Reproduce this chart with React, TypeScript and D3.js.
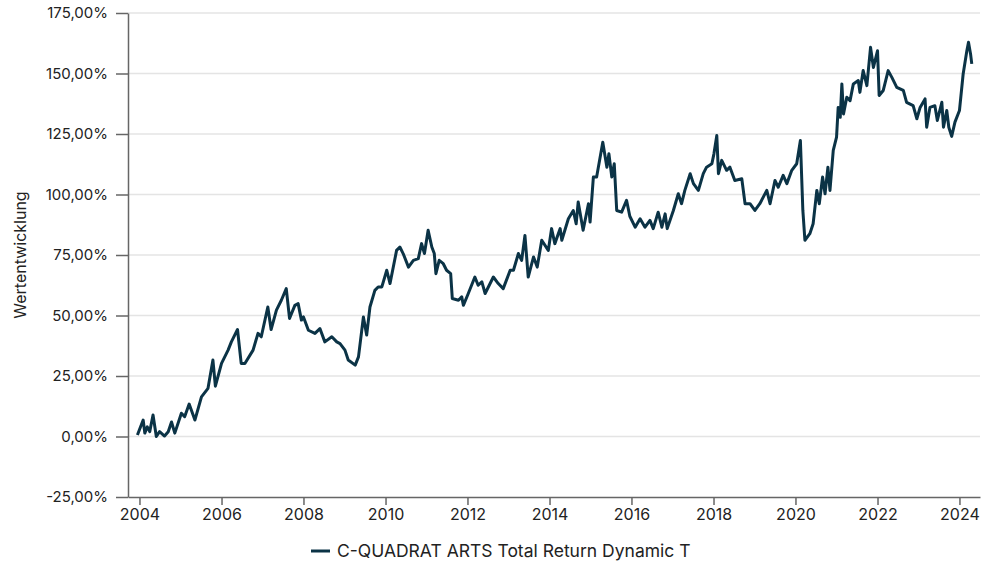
import React, { useRef, useEffect } from "react";
import * as d3 from "d3";

// fractional years, with the matching performance in %
const years = [
  2003.95, 2004.09, 2004.13, 2004.19, 2004.25, 2004.33, 2004.41, 2004.49, 2004.61, 2004.7,
  2004.78, 2004.86, 2005.02, 2005.1, 2005.21, 2005.35, 2005.51, 2005.67, 2005.79, 2005.85,
  2006.0, 2006.16, 2006.24, 2006.39, 2006.48, 2006.57, 2006.77, 2006.89, 2006.97, 2007.13,
  2007.21, 2007.34, 2007.46, 2007.58, 2007.66, 2007.79, 2007.87, 2007.95, 2008.0, 2008.12,
  2008.28, 2008.4, 2008.52, 2008.69, 2008.81, 2008.89, 2009.01, 2009.09, 2009.26, 2009.34,
  2009.46, 2009.54, 2009.62, 2009.74, 2009.82, 2009.91, 2010.03, 2010.11, 2010.27, 2010.35,
  2010.43, 2010.56, 2010.68, 2010.8, 2010.88, 2010.95, 2011.04, 2011.13, 2011.19, 2011.23,
  2011.31, 2011.41, 2011.49, 2011.59, 2011.63, 2011.78, 2011.86, 2011.9, 2012.02, 2012.18,
  2012.26, 2012.35, 2012.43, 2012.63, 2012.75, 2012.87, 2013.04, 2013.12, 2013.24, 2013.32,
  2013.4, 2013.48, 2013.61, 2013.7, 2013.81, 2013.97, 2014.05, 2014.13, 2014.26, 2014.3,
  2014.46, 2014.58, 2014.65, 2014.7, 2014.82, 2014.95, 2014.99, 2015.07, 2015.15, 2015.3,
  2015.4, 2015.45, 2015.52, 2015.58, 2015.64, 2015.76, 2015.88, 2015.96, 2016.09, 2016.21,
  2016.33, 2016.45, 2016.53, 2016.65, 2016.74, 2016.82, 2016.87, 2017.02, 2017.14, 2017.22,
  2017.3, 2017.43, 2017.51, 2017.63, 2017.75, 2017.83, 2017.96, 2018.01, 2018.08, 2018.12,
  2018.2, 2018.32, 2018.4, 2018.52, 2018.69, 2018.77, 2018.89, 2019.01, 2019.13, 2019.3,
  2019.38, 2019.5, 2019.58, 2019.7, 2019.79, 2019.91, 2020.03, 2020.12, 2020.18, 2020.23,
  2020.35, 2020.43, 2020.52, 2020.58, 2020.66, 2020.72, 2020.79, 2020.84, 2020.92, 2021.0,
  2021.04, 2021.09, 2021.13, 2021.17, 2021.25, 2021.33, 2021.41, 2021.53, 2021.57, 2021.65,
  2021.74, 2021.83, 2021.9, 2022.0, 2022.04, 2022.14, 2022.26, 2022.35, 2022.47, 2022.63,
  2022.71, 2022.87, 2022.96, 2023.04, 2023.16, 2023.2, 2023.28, 2023.4, 2023.46, 2023.57,
  2023.61, 2023.69, 2023.74, 2023.81, 2023.89, 2024.0, 2024.09, 2024.18, 2024.22, 2024.27,
  2024.3,
];

const performance = [
  0.6, 6.8, 1.4, 4, 2, 8.9, 0, 2, 0.2, 2,
  6, 1.4, 9.6, 8.2, 13.4, 6.8, 16.4, 19.9, 31.6, 20.8,
  30.2, 35.7, 39.1, 44.2, 30.2, 30.2, 35.7, 42.6, 41.2, 53.5,
  44.2, 52.2, 56.3, 61.1, 48.8, 54.2, 54.9, 48.1, 49.4, 43.9,
  42.6, 44.6, 39.1, 41.2, 39.1, 38.4, 35.7, 31.6, 29.5, 32.9,
  49.4, 41.9, 53.5, 60.4, 61.8, 61.8, 68.7, 63.2, 76.9, 78.3,
  75.6, 70, 72.8, 73.5, 79.7, 75.6, 85.2, 78.3, 75.6, 67.3,
  72.8, 71.4, 68.7, 67.3, 57, 56.3, 57.7, 54.2, 59.1, 65.9,
  62.5, 63.9, 59.1, 65.9, 63.2, 61.1, 68.7, 68.7, 75.6, 72.8,
  83.1, 65.9, 74.2, 70, 81.1, 76.9, 85.9, 79.7, 85.9, 81.1,
  90, 93.4, 87.9, 96.9, 85.2, 96.2, 88.6, 107.2, 107.2, 121.6,
  111.3, 116.8, 107.2, 112.7, 93.4, 92.7, 97.6, 91, 86.5, 90,
  86.5, 89.3, 85.9, 92.7, 86.5, 92, 85.9, 93.4, 100.3, 96.2,
  101.7, 108.6, 104.5, 101.7, 108.6, 111.3, 112.7, 116.8, 124.4, 108.6,
  114.1, 110, 111.3, 105.8, 106.5, 96.2, 96.2, 93.4, 96.2, 101.7,
  96.2, 105.8, 103, 107.9, 104.5, 110, 112.7, 122.3, 93.4, 81.1,
  83.8, 87.9, 101.7, 96.2, 107.2, 100.3, 111.3, 101.7, 118.2, 123.7,
  136, 131.9, 145.7, 133.3, 140.2, 138.8, 145.7, 147.1, 142.2, 151.2,
  145, 160.8, 152.5, 159.4, 140.9, 143, 151.2, 148.4, 144.3, 143,
  138.1, 136.7, 131.3, 136, 139.5, 127.8, 136, 136.7, 130.6, 138.1,
  127.8, 134.7, 127.8, 124, 129.9, 134.7, 149.8, 159.4, 162.9, 158.1,
  154,
];

const xTickYears = [2004, 2006, 2008, 2010, 2012, 2014, 2016, 2018, 2020, 2022, 2024];
const yTickValues = [-25, 0, 25, 50, 75, 100, 125, 150, 175];
const seriesName = "C-QUADRAT ARTS Total Return Dynamic T";
const yAxisTitle = "Wertentwicklung";

const width = 991;
const height = 562;
const margin = { top: 13, right: 11, bottom: 65, left: 128 };
const lineColor = "#0b3346";
const font = "Inter, 'Noto Sans', sans-serif";

const toDate = (y: number) => {
  const yr = Math.floor(y);
  const start = new Date(yr, 0, 1).getTime();
  const end = new Date(yr + 1, 0, 1).getTime();
  return new Date(start + (y - yr) * (end - start));
};

const fmtPct = (d: number) => d.toFixed(2).replace(".", ",") + "%";

export default function App() {
  const xAxisRef = useRef<SVGGElement>(null);
  const yAxisRef = useRef<SVGGElement>(null);

  const x = d3
    .scaleTime()
    .domain([toDate(2003.72), toDate(2024.5)])
    .range([margin.left, width - margin.right]);
  const y = d3
    .scaleLinear()
    .domain([-25, 175])
    .range([height - margin.bottom, margin.top]);

  const data = years.map((yr, i) => ({ date: toDate(yr), value: performance[i] }));
  const line = d3
    .line<{ date: Date; value: number }>()
    .x(d => x(d.date))
    .y(d => y(d.value));

  useEffect(() => {
    const xAxis = d3
      .axisBottom(x)
      .tickValues(xTickYears.map(yr => new Date(yr, 0, 1)))
      .tickFormat(d => String((d as Date).getFullYear()))
      .tickSize(8)
      .tickSizeOuter(0)
      .tickPadding(4);
    const yAxis = d3
      .axisLeft(y)
      .tickValues(yTickValues)
      .tickFormat(d => fmtPct(d as number))
      .tickSize(12)
      .tickSizeOuter(0)
      .tickPadding(8);

    const gx = d3.select(xAxisRef.current).call(xAxis);
    const gy = d3.select(yAxisRef.current).call(yAxis);
    [gx, gy].forEach(g => {
      g.selectAll("path, line").attr("stroke", "#666").attr("stroke-width", 1.5);
      g.selectAll("text").attr("fill", "#222").style("font-family", font);
    });
    gx.selectAll("text").style("font-size", "16px");
    gy.selectAll("text").style("font-size", "15px");
  }, []);

  return (
    <svg width={width} height={height} style={{ position: "absolute", left: 0, top: 0 }}>
      <rect width={width} height={height} fill="#fff" />
      <g>
        {yTickValues.slice(1).map(v => (
          <line
            key={v}
            x1={margin.left}
            x2={width - margin.right}
            y1={y(v)}
            y2={y(v)}
            stroke="#e4e4e4"
            strokeWidth={1.5}
          />
        ))}
      </g>
      <path d={line(data) || ""} fill="none" stroke={lineColor} strokeWidth={3} strokeLinejoin="round" />
      <g ref={xAxisRef} transform={`translate(0,${height - margin.bottom})`} />
      <g ref={yAxisRef} transform={`translate(${margin.left},0)`} />
      <text
        transform={`translate(26,${(margin.top + height - margin.bottom) / 2}) rotate(-90)`}
        textAnchor="middle"
        fontFamily={font}
        fontSize={16}
        fill="#222"
      >
        {yAxisTitle}
      </text>
      <g transform="translate(311,551)">
        <line x1={0} x2={19} y1={0} y2={0} stroke={lineColor} strokeWidth={3} />
        <text x={26} y={6} fontFamily={font} fontSize={17.5} fill="#222">
          {seriesName}
        </text>
      </g>
    </svg>
  );
}
